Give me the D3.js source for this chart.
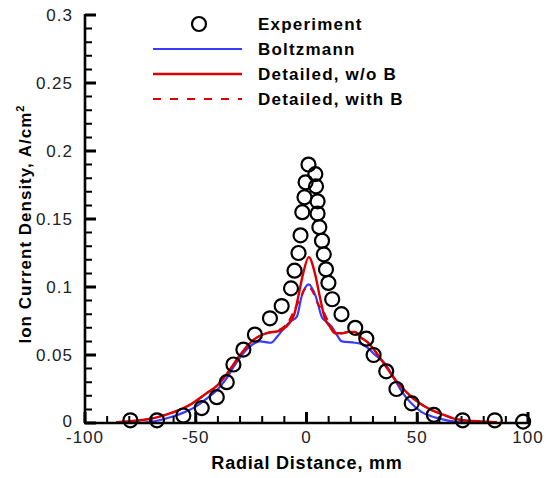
<!DOCTYPE html>
<html>
<head>
<meta charset="utf-8">
<script src="https://cdn.jsdelivr.net/npm/d3@7"></script>
<style>
  body { margin: 0; background: #fff; }
  svg { display: block; font-family: "Liberation Sans", Arial, sans-serif; }
</style>
</head>
<body>
<div class="chart"></div>
<script>
// chart size
var svgWidth = 552;
var svgHeight = 478;

// experiment points
var expX = [-79.5, -67.5, -55.6, -47.3, -40.5, -36, -33, -28.5, -23.3, -16.5, -11.2, -7, -5.4, -3.6, -2.7, -1.9, -0.9, -0.4, 0.9,
  4, 4.3, 5, 5, 5.8, 7, 7.8, 8.8, 9.9, 11.6, 15.8, 22, 27, 30.3, 36, 40.6, 47.5, 57.5, 70.5, 85, 97.8];
var expY = [0.002, 0.002, 0.0055, 0.011, 0.019, 0.030, 0.043, 0.054, 0.065, 0.077, 0.086, 0.099, 0.112, 0.125, 0.138, 0.155, 0.166, 0.177, 0.190,
  0.183, 0.174, 0.163, 0.154, 0.144, 0.134, 0.124, 0.113, 0.103, 0.091, 0.080, 0.070, 0.062, 0.050, 0.038, 0.025, 0.0145, 0.006, 0.002, 0.002, 0.001];

// Boltzmann
var boltzX = [-75, -68, -60, -55, -50, -45, -40.6, -36, -33, -27, -23, -21, -16, -13, -10.5, -7.4, -4.4, -2.2, 1,
  4.2, 6.9, 9, 11.3, 14, 16, 21.8, 25, 27.8, 31, 35.3, 39.8, 43.5, 47.3, 52, 56.3, 62, 67, 75];
var boltzY = [0, 0.0015, 0.005, 0.008, 0.012, 0.018, 0.024, 0.033, 0.041, 0.054, 0.059, 0.060, 0.059, 0.064, 0.069, 0.0745, 0.078, 0.093, 0.102,
  0.093, 0.078, 0.0745, 0.071, 0.064, 0.060, 0.059, 0.058, 0.055, 0.050, 0.044, 0.032, 0.022, 0.0145, 0.008, 0.005, 0.0025, 0.001, 0];

// Detailed, w/o B
var detX = [-86, -75, -68, -60, -52, -45, -40, -36, -30, -24, -18, -12, -9, -7, -5.5, -3.7, -1.5, 1,
  3.8, 6, 8.3, 10.5, 12.9, 16, 19, 21.9, 24.5, 27.9, 34, 40, 47.5, 56.5, 62, 67, 75, 80, 86];
var detY = [0.0005, 0.002, 0.004, 0.008, 0.014, 0.022, 0.028, 0.036, 0.050, 0.061, 0.066, 0.068, 0.071, 0.075, 0.080, 0.093, 0.110, 0.122,
  0.110, 0.093, 0.077, 0.071, 0.066, 0.066, 0.067, 0.067, 0.063, 0.059, 0.046, 0.032, 0.019, 0.0095, 0.006, 0.003, 0.0015, 0.001, 0.0005];

// Detailed, with B
var detBX = [-86, -75, -68, -60, -52, -45, -40, -36, -30, -24, -18, -13, -10, -7.6, -5.5, -3, -1, 1,
  3, 5, 7.6, 10, 12, 16, 19, 21.9, 24.5, 27.9, 34, 40, 47.5, 56.5, 62, 67, 75, 80, 86];
var detBY = [0.0005, 0.002, 0.004, 0.008, 0.014, 0.022, 0.028, 0.036, 0.050, 0.061, 0.066, 0.068, 0.071, 0.076, 0.083, 0.091, 0.098, 0.100,
  0.096, 0.088, 0.082, 0.074, 0.068, 0.066, 0.067, 0.067, 0.063, 0.059, 0.046, 0.032, 0.019, 0.0095, 0.006, 0.003, 0.0015, 0.001, 0.0005];

// ticks
var xTicks = [-100, -50, 0, 50, 100];
var yTicks = [0, 0.05, 0.1, 0.15, 0.2, 0.25, 0.3];
var legendNames = ["Experiment", "Boltzmann", "Detailed, w/o B", "Detailed, with B"];

var svg = d3.select(".chart")
  .append("svg")
  .attr("width", svgWidth)
  .attr("height", svgHeight);

var x = d3.scaleLinear().domain([-100, 100]).range([85, 528]);
var y = d3.scaleLinear().domain([0, 0.3]).range([423, 15]);
var x0 = x(-100), y0 = y(0);

// tick labels
svg.selectAll(".ylab")
  .data(yTicks)
  .enter()
  .append("text")
  .attr("x", x0 - 12)
  .attr("y", d => d === 0 ? y(d) - 2 : y(d))
  .attr("dy", "0.35em")
  .attr("text-anchor", "end")
  .attr("font-size", 17)
  .attr("fill", "#222")
  .attr("letter-spacing", 1)
  .text(d => d3.format("")(+d.toFixed(2)));

svg.selectAll(".xlab")
  .data(xTicks)
  .enter()
  .append("text")
  .attr("x", d => x(d))
  .attr("y", y0 + 20)
  .attr("text-anchor", "middle")
  .attr("font-size", 17)
  .attr("fill", "#222")
  .attr("letter-spacing", 1)
  .text(d => d);

// lines
var line = d3.line()
  .x(d => x(d[0]))
  .y(d => y(d[1]))
  .curve(d3.curveMonotoneX);

function pairs(xs, ys) {
  return xs.map((v, i) => [v, ys[i]]);
}

svg.append("path")
  .attr("d", line(pairs(boltzX, boltzY)))
  .attr("fill", "none")
  .attr("stroke", "#3b3bff")
  .attr("stroke-width", 2.2);

svg.append("path")
  .attr("d", line(pairs(detBX, detBY)))
  .attr("fill", "none")
  .attr("stroke", "#dd0000")
  .attr("stroke-width", 2)
  .attr("stroke-dasharray", "8,6");

svg.append("path")
  .attr("d", line(pairs(detX, detY)))
  .attr("fill", "none")
  .attr("stroke", "#dd0000")
  .attr("stroke-width", 2.4);

// experiment circles
svg.append("g")
  .selectAll("circle")
  .data(pairs(expX, expY))
  .enter()
  .append("circle")
  .attr("cx", d => x(d[0]))
  .attr("cy", d => y(d[1]))
  .attr("r", 7)
  .attr("fill", "none")
  .attr("stroke", "#000")
  .attr("stroke-width", 2.2);

// axis lines
svg.append("line")
  .attr("x1", x0).attr("x2", x0).attr("y1", y(0.3) - 1).attr("y2", y0)
  .attr("stroke", "#000").attr("stroke-width", 2.6);
svg.append("line")
  .attr("x1", x0 - 1).attr("x2", x(100) + 1).attr("y1", y0).attr("y2", y0)
  .attr("stroke", "#000").attr("stroke-width", 2.6);

// tick marks, pointing inward
var yMinor = d3.range(0, 31).map(i => i / 100);
var xMinor = d3.range(-10, 11).map(i => i * 10);

svg.append("path")
  .attr("d", yMinor.map(d => `M${x0},${y(d)}h7`).join(""))
  .attr("fill", "none").attr("stroke", "#000").attr("stroke-width", 2);
svg.append("path")
  .attr("d", xMinor.map(d => `M${x(d)},${y0}v-7`).join(""))
  .attr("fill", "none").attr("stroke", "#000").attr("stroke-width", 2);
svg.append("path")
  .attr("d", yTicks.map(d => `M${x0},${y(d)}h11`).join(""))
  .attr("fill", "none").attr("stroke", "#000").attr("stroke-width", 3);
svg.append("path")
  .attr("d", xTicks.map(d => `M${x(d)},${y0}v-11`).join(""))
  .attr("fill", "none").attr("stroke", "#000").attr("stroke-width", 3);

// legend
var legend = svg.append("g");
var rowY = [24, 49, 74, 99];
legend.append("circle")
  .attr("cx", 199).attr("cy", rowY[0]).attr("r", 7)
  .attr("fill", "none").attr("stroke", "#000").attr("stroke-width", 2.2);
legend.append("line")
  .attr("x1", 153).attr("x2", 242).attr("y1", rowY[1]).attr("y2", rowY[1])
  .attr("stroke", "#3b3bff").attr("stroke-width", 2.2);
legend.append("line")
  .attr("x1", 153).attr("x2", 242).attr("y1", rowY[2]).attr("y2", rowY[2])
  .attr("stroke", "#dd0000").attr("stroke-width", 2.4);
legend.append("line")
  .attr("x1", 153).attr("x2", 242).attr("y1", rowY[3]).attr("y2", rowY[3])
  .attr("stroke", "#dd0000").attr("stroke-width", 2)
  .attr("stroke-dasharray", "8,9");

legend.selectAll("text")
  .data(legendNames)
  .enter()
  .append("text")
  .attr("x", 258)
  .attr("y", (d, i) => rowY[i])
  .attr("dy", "0.36em")
  .attr("font-size", 17)
  .attr("font-weight", "bold")
  .attr("letter-spacing", 1.2)
  .text(d => d);

// axis titles
svg.append("text")
  .attr("x", 307)
  .attr("y", 469)
  .attr("text-anchor", "middle")
  .attr("font-size", 18)
  .attr("font-weight", "bold")
  .attr("letter-spacing", 0.8)
  .text("Radial Distance, mm");

var yTitle = svg.append("text")
  .attr("transform", "translate(31,224) rotate(-90)")
  .attr("text-anchor", "middle")
  .attr("font-size", 17)
  .attr("font-weight", "bold")
  .attr("letter-spacing", 1);
yTitle.append("tspan").text("Ion Current Density, A/cm");
yTitle.append("tspan").attr("font-size", 11).attr("dy", -7).text("2");
</script>
</body>
</html>
